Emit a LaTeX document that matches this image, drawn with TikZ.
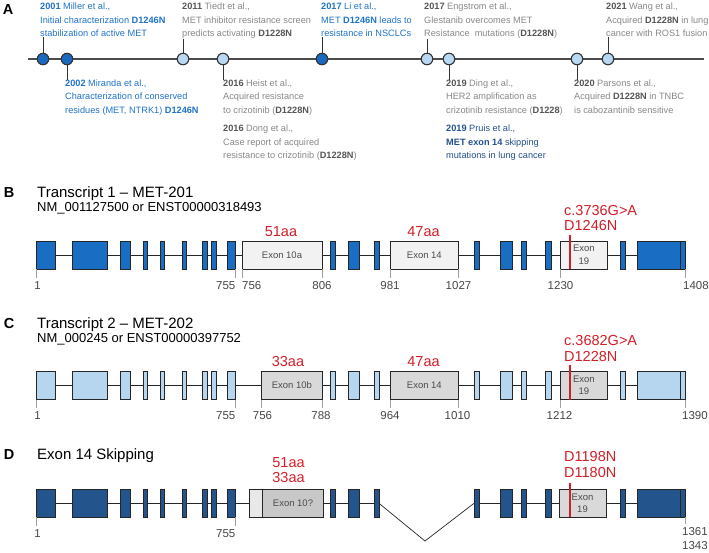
\documentclass[tikz,border=0pt]{standalone}
\usepackage{fontspec}
\setmainfont{Liberation Sans}

\definecolor{tlblue}{RGB}{30,115,200}
\definecolor{tlnavy}{RGB}{35,80,140}
\definecolor{tlgray}{RGB}{135,135,135}
\definecolor{tlgraydark}{RGB}{85,85,85}
\definecolor{evdark}{RGB}{25,105,190}
\definecolor{evlight}{RGB}{185,215,240}
\definecolor{metB}{RGB}{25,110,195}
\definecolor{metC}{RGB}{182,214,240}
\definecolor{metD}{RGB}{35,85,140}
\definecolor{exlight}{RGB}{242,242,242}
\definecolor{exgray}{RGB}{217,217,217}
\definecolor{exgraydk}{RGB}{200,200,200}
\definecolor{exfaint}{RGB}{232,232,232}
\definecolor{mutred}{RGB}{210,30,40}
\definecolor{numgray}{RGB}{70,70,70}
\definecolor{tickgray}{RGB}{160,160,160}

\newcommand{\gb}[1]{\textbf{\color{tlgraydark}#1}}

\tikzset{
  tag/.style={font=\fontsize{14.5}{16}\selectfont\bfseries, inner sep=0pt},
  title/.style={font=\fontsize{15}{17}\selectfont, inner sep=0pt, anchor=base west},
  subtitle/.style={font=\fontsize{13}{15}\selectfont, inner sep=0pt, anchor=base west},
  tlline/.style={draw=black!70, line width=1.4pt},
  event/.style={circle, draw=black!80, line width=1.1pt, minimum size=11.5pt, inner sep=0pt},
  evtext/.style={font=\fontsize{9.2}{13.5}\selectfont, align=left, inner sep=0pt, text=tlgray},
  uptext/.style={evtext, anchor=north west},
  downtext/.style={evtext, anchor=north west},
  evtick/.style={draw=black!80, line width=1pt},
  exon/.style={draw=black!85, line width=0.9pt, inner sep=0pt, outer sep=0pt, minimum height=28pt,
    font=\fontsize{9.5}{12.5}\selectfont, text=black!70, align=center},
  intron/.style={draw=black!85, line width=0.9pt},
  redlab/.style={font=\fontsize{14.5}{16}\selectfont, text=mutred, inner sep=0pt},
  mut/.style={draw=mutred, line width=1.2pt},
  num/.style={font=\fontsize{11.5}{13}\selectfont, text=numgray, inner sep=0pt},
  tick/.style={draw=tickgray, line width=0.8pt, shorten >=3pt}
}

\def\smallexons{1/36.7/55.7, 2/72.3/107, 3/120.3/130.7, 4/143/147.3, 5/160/164.3, 6/182.3/186.7, 7/202/207.7, 8/211.3/216, 9/227.7/235.7, 11/330.7/335.3, 12/348/359, 13/374/379, 15/474/479.3, 16/500/512.5, 17/521/526, 18/545/551, 20/620/625, 21/637/680.5, 22/680.5/685}

\begin{document}
\begin{tikzpicture}[x=1pt,y=-1pt]
\useasboundingbox (0,0) rectangle (709,552);

\node[tag] (tagA) at (8,10) {A};
\coordinate (tlstart) at (28,59);
\coordinate (tlend) at (704,59);
\draw[tlline] (tlstart) -- (tlend);

\node[event, fill=evdark] (e2001) at (43,59) {};
\node[event, fill=evdark] (e2002) at (67,59) {};
\node[event, fill=evlight] (e2011) at (183,59) {};
\node[event, fill=evlight] (e2016) at (223,59) {};
\node[event, fill=evdark] (e2017a) at (322,59) {};
\node[event, fill=evlight] (e2017b) at (427,59) {};
\node[event, fill=evlight] (e2019) at (449,59) {};
\node[event, fill=evlight] (e2020) at (577,59) {};
\node[event, fill=evlight] (e2021) at (608,59) {};

\node[uptext, text=tlblue] (n2001) at (40,3) {\textbf{2001} Miller et al.,\\Initial characterization \textbf{D1246N}\\stabilization of active MET};
\node[uptext] (n2011) at (182,3) {\gb{2011} Tiedt et al.,\\MET inhibitor resistance screen\\predicts activating \gb{D1228N}};
\node[uptext, text=tlblue] (n2017a) at (321,3) {\textbf{2017} Li et al.,\\MET \textbf{D1246N} leads to\\resistance in NSCLCs};
\node[uptext] (n2017b) at (424,3) {\gb{2017} Engstrom et al.,\\Glestanib overcomes MET\\Resistance\ \ mutations (\gb{D1228N})};
\node[uptext] (n2021) at (606,3) {\gb{2021} Wang et al.,\\Acquired \gb{D1228N} in lung\\cancer with ROS1 fusion};

\node[downtext, text=tlblue] (n2002) at (65,79.5) {\textbf{2002} Miranda et al.,\\Characterization of conserved\\residues (MET, NTRK1) \textbf{D1246N}};
\node[downtext] (n2016a) at (223,79.5) {\gb{2016} Heist et al.,\\Acquired resistance\\to crizotinib (\gb{D1228N})};
\node[downtext] (n2016b) at (223,125) {\gb{2016} Dong et al.,\\Case report of acquired\\resistance to crizotinib (\gb{D1228N})};
\node[downtext] (n2019a) at (446,79.5) {\gb{2019} Ding et al.,\\HER2 amplification as\\crizotinib resistance (\gb{D1228})};
\node[downtext, text=tlnavy] (n2019b) at (446,125) {\textbf{2019} Pruis et al.,\\\textbf{MET exon 14} skipping\\mutations in lung cancer};
\node[downtext] (n2020) at (574,79.5) {\gb{2020} Parsons et al.,\\Acquired \gb{D1228N} in TNBC\\is cabozantinib sensitive};

\foreach \e in {2001,2011,2017a,2017b,2021}
  \draw[evtick] (e\e.north) -- (e\e.north |- n\e.south);
\foreach \e/\t in {2002/2002,2016/2016a,2019/2019a,2020/2020}
  \draw[evtick] (e\e.south) -- (e\e.south |- n\t.north);

\node[tag, anchor=base] (tagB) at (9,197.3) {B};
\node[title] (titleB) at (37,197.3) {Transcript 1 – MET-201};
\node[subtitle] (subB) at (37,211.7) {NM\_001127500 or ENST00000318493};

\foreach \n/\l/\r in \smallexons
  \node[exon, fill=metB, minimum width={(\r-\l)*1pt}] (b\n) at ({(\l+\r)/2},255) {};
\node[exon, fill=exlight, minimum width=80pt] (b10) at (282,255) {Exon 10a};
\node[exon, fill=exlight, minimum width=68.7pt] (b14) at (424.35,255) {Exon 14};
\node[exon, fill=exlight, minimum width=47.7pt] (b19) at (583.85,255) {Exon\\19};
\foreach \n [remember=\n as \p (initially 1)] in {2,...,22}
  \draw[intron] (b\p.east) -- (b\n.west);

\node[redlab, anchor=base] (aaB10) at (281,236.5) {51aa};
\node[redlab, anchor=base] (aaB14) at (423.5,236.5) {47aa};
\node[redlab, anchor=base west] (cdnaB) at (564,215) {c.3736G>A};
\node[redlab, anchor=base west] (protB) at (564,230.7) {D1246N};
\coordinate (mutB) at (570,234.5);
\draw[mut] (mutB) -- (mutB |- b19.south);

\node[num, anchor=base] (nb1) at (37.5,289.3) {1};
\node[num, anchor=base east] (nb755) at (235.5,289.3) {755};
\node[num, anchor=base west] (nb756) at (242,289.3) {756};
\node[num, anchor=base] (nb806) at (322,289.3) {806};
\node[num, anchor=base] (nb981) at (390,289.3) {981};
\node[num, anchor=base] (nb1027) at (458.5,289.3) {1027};
\node[num, anchor=base] (nb1230) at (560.5,289.3) {1230};
\node[num, anchor=base west] (nb1408) at (683,289.3) {1408};
\foreach \a/\t in {b1.south west/nb1, b9.south east/nb755, b10.south west/nb756, b10.south east/nb806,
    b14.south west/nb981, b14.south east/nb1027, b19.south west/nb1230, b22.south east/nb1408}
  \draw[tick] (\a) -- (\a |- \t.north);

\node[tag, anchor=base] (tagC) at (9,328.3) {C};
\node[title] (titleC) at (37,328.3) {Transcript 2 – MET-202};
\node[subtitle] (subC) at (37,342.5) {NM\_000245 or ENST00000397752};

\foreach \n/\l/\r in \smallexons
  \node[exon, fill=metC, minimum width={(\r-\l)*1pt}] (c\n) at ({(\l+\r)/2},385.5) {};
\node[exon, fill=exgray, minimum width=61.7pt] (c10) at (291.85,385.5) {Exon 10b};
\node[exon, fill=exgray, minimum width=68.7pt] (c14) at (424.35,385.5) {Exon 14};
\node[exon, fill=exgray, minimum width=47.7pt] (c19) at (583.85,385.5) {Exon\\19};
\foreach \n [remember=\n as \p (initially 1)] in {2,...,22}
  \draw[intron] (c\p.east) -- (c\n.west);

\node[redlab, anchor=base] (aaC10) at (288,366.5) {33aa};
\node[redlab, anchor=base] (aaC14) at (423.5,366.5) {47aa};
\node[redlab, anchor=base west] (cdnaC) at (564,345) {c.3682G>A};
\node[redlab, anchor=base west] (protC) at (564,361) {D1228N};
\coordinate (mutC) at (570,364.8);
\draw[mut] (mutC) -- (mutC |- c19.south);

\node[num, anchor=base] (nc1) at (37.5,419.5) {1};
\node[num, anchor=base east] (nc755) at (235.5,419.5) {755};
\node[num, anchor=base] (nc756) at (262.5,419.5) {756};
\node[num, anchor=base] (nc788) at (321,419.5) {788};
\node[num, anchor=base] (nc964) at (390,419.5) {964};
\node[num, anchor=base] (nc1010) at (457.5,419.5) {1010};
\node[num, anchor=base] (nc1212) at (559.5,419.5) {1212};
\node[num, anchor=base west] (nc1390) at (682,419.5) {1390};
\foreach \a/\t in {c1.south west/nc1, c9.south east/nc755, c10.south west/nc756, c10.south east/nc788,
    c14.south west/nc964, c14.south east/nc1010, c19.south west/nc1212, c22.south east/nc1390}
  \draw[tick] (\a) -- (\a |- \t.north);

\node[tag, anchor=base] (tagD) at (9,459) {D};
\node[title] (titleD) at (37,459) {Exon 14 Skipping};

\foreach \n/\l/\r in \smallexons
  \node[exon, fill=metD, minimum width={(\r-\l)*1pt}] (d\n) at ({(\l+\r)/2},503.3) {};
\node[exon, fill=exfaint, minimum width=13.4pt] (d10a) at (256,503.3) {};
\node[exon, fill=exgraydk, minimum width=60.6pt] (d10) at (293,503.3) {Exon 10?};
\node[exon, fill=exgray, minimum width=47pt] (d19) at (582.5,503.3) {Exon\\19};
\foreach \p/\n in {1/2,2/3,3/4,4/5,5/6,6/7,7/8,8/9,9/10a,10/11,11/12,12/13,15/16,16/17,17/18,18/19,19/20,20/21}
  \draw[intron] (d\p.east) -- (d\n.west);
\coordinate (skip) at (425,541);
\draw[intron, line width=0.7pt] (d13.east) -- (skip) -- (d15.west);

\node[redlab, anchor=base] (aaD1) at (288.5,467) {51aa};
\node[redlab, anchor=base] (aaD2) at (288.5,482) {33aa};
\node[redlab, anchor=base west] (protD1) at (564,461.7) {D1198N};
\node[redlab, anchor=base west] (protD2) at (564,477.7) {D1180N};
\coordinate (mutD) at (570,483.3);
\draw[mut] (mutD) -- (mutD |- d19.south);

\node[num, anchor=base] (nd1) at (37.5,537.5) {1};
\node[num, anchor=base east] (nd755) at (235.5,537.5) {755};
\node[num, anchor=base west] (nd1361) at (682,535.5) {1361};
\node[num, anchor=base west] (nd1343) at (682,549.8) {1343};
\foreach \a/\t in {d1.south west/nd1, d9.south east/nd755, d22.south east/nd1361}
  \draw[tick] (\a) -- (\a |- \t.north);

\end{tikzpicture}
\end{document}
